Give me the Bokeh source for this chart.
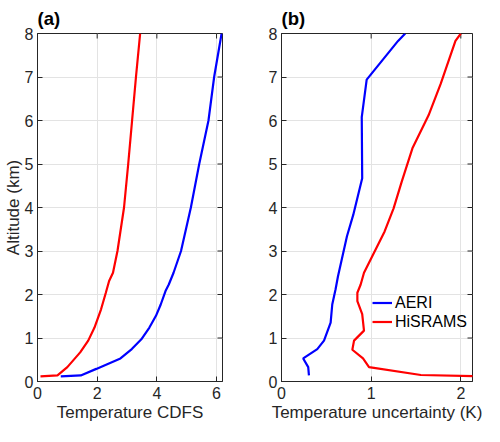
import math
from bokeh.plotting import figure
from bokeh.models import Range1d, FixedTicker, Legend, LegendItem
from bokeh.layouts import row
from bokeh.embed import file_html
from bokeh.resources import INLINE

# ---------------- data ----------------
# Panel (a): Temperature CDFS vs altitude (km)
cdfs_hisrams = [0.10, 0.67, 1.00, 1.43, 1.70, 1.91, 2.13, 2.29, 2.40, 2.53, 2.68, 2.90, 3.04, 3.17, 3.30, 3.44]
alt_cdfs_hisrams = [0.12, 0.14, 0.33, 0.67, 0.94, 1.24, 1.66, 2.04, 2.31, 2.50, 3.00, 4.00, 5.00, 6.00, 7.00, 8.00]

cdfs_aeri = [0.78, 1.45, 1.97, 2.78, 3.16, 3.48, 3.75, 3.97, 4.13, 4.29, 4.40, 4.56, 4.81, 5.14, 5.42, 5.73, 5.92, 6.17]
alt_cdfs_aeri = [0.12, 0.14, 0.29, 0.53, 0.745, 0.97, 1.24, 1.51, 1.77, 2.08, 2.23, 2.50, 3.00, 4.00, 5.00, 6.00, 7.00, 8.00]

# Panel (b): Temperature uncertainty (K) vs altitude (km)
unc_aeri = [0.306, 0.298, 0.242, 0.399, 0.474, 0.548, 0.566, 0.603, 0.63, 0.68, 0.73, 0.80, 0.90, 0.895, 0.95, 1.30, 1.38]
alt_unc_aeri = [0.14, 0.33, 0.53, 0.745, 0.94, 1.355, 1.77, 2.12, 2.42, 2.88, 3.34, 3.83, 4.67, 6.08, 6.94, 7.83, 8.00]

unc_hisrams = [2.25, 1.554, 0.976, 0.909, 0.79, 0.809, 0.92, 0.90, 0.846, 0.846, 0.883, 0.92, 1.15, 1.25, 1.34, 1.46, 1.64, 1.775, 1.94, 2.00]
alt_unc_hisrams = [0.12, 0.15, 0.33, 0.53, 0.73, 0.94, 1.17, 1.55, 1.85, 2.04, 2.23, 2.50, 3.45, 3.98, 4.59, 5.36, 6.12, 6.84, 7.83, 8.00]

xticks_a = [0, 2, 4, 6]
xticks_b = [0, 1, 2]
yticks = [0, 1, 2, 3, 4, 5, 6, 7, 8]
xmax_a = 6.2
xmax_b = 2.13
ymax = 8

FONT = "Liberation Sans"
TXT = "#262626"
GRID = "#e3e3e3"

FRAME_W = 191
FRAME_H = 350
TOP = 31
BOTTOM = 43


def style_axis(ax, ticks, standoff):
    ax.ticker = FixedTicker(ticks=ticks)
    ax.major_tick_in = 5
    ax.major_tick_out = 0
    ax.major_tick_line_color = TXT
    ax.major_tick_line_width = 1
    ax.minor_tick_line_color = None
    ax.axis_line_color = TXT
    ax.axis_line_width = 1
    ax.major_label_text_font = FONT
    ax.major_label_text_color = TXT
    ax.major_label_text_font_size = "16px"
    ax.major_label_standoff = standoff
    ax.axis_label_text_font = FONT
    ax.axis_label_text_color = TXT
    ax.axis_label_text_font_style = "normal"
    ax.axis_label_text_font_size = "17px"


def make_panel(title, xmax, xticks, xlabel, ylabel, left, right):
    p = figure(
        width=left + FRAME_W + right, height=TOP + FRAME_H + BOTTOM,
        x_range=Range1d(0, xmax), y_range=Range1d(0, ymax),
        output_backend="svg", toolbar_location=None,
        min_border_left=left, min_border_right=right,
        min_border_top=TOP, min_border_bottom=BOTTOM,
        background_fill_color="white", border_fill_color="white",
    )
    p.outline_line_color = TXT
    p.outline_line_width = 1
    p.title.text = title
    p.title.text_font = FONT
    p.title.text_font_size = "18.5px"
    p.title.text_font_style = "bold"
    p.title.text_color = "black"
    p.title.align = "left"
    p.title.standoff = 10

    style_axis(p.xaxis[0], xticks, 5)
    style_axis(p.yaxis[0], yticks, 4)
    p.xaxis[0].axis_label = xlabel
    p.xaxis[0].axis_label_standoff = 1
    if ylabel:
        p.yaxis[0].axis_label = ylabel
        p.yaxis[0].axis_label_standoff = -1

    p.xgrid.ticker = FixedTicker(ticks=xticks)
    p.ygrid.ticker = FixedTicker(ticks=yticks)
    p.grid.grid_line_color = GRID
    p.grid.grid_line_width = 1

    # inward tick marks on the top and right edges of the box (clipped to the frame)
    p.scatter(x=xticks, y=[ymax] * len(xticks), marker="dash", size=10, angle=math.pi / 2,
              line_color=TXT, line_width=1)
    p.scatter(x=[xmax] * len(yticks), y=yticks, marker="dash", size=10, angle=0,
              line_color=TXT, line_width=1)
    return p


pa = make_panel("(a)", xmax_a, xticks_a, "Temperature CDFS", "Altitude (km)", 31, 27)
pa.line(cdfs_hisrams, alt_cdfs_hisrams, line_color="#ff0000", line_width=2.2)
pa.line(cdfs_aeri, alt_cdfs_aeri, line_color="#0000ff", line_width=2.2)

pb = make_panel("(b)", xmax_b, xticks_b, "Temperature uncertainty (K)", None, 32, 12)
rb = pb.line(unc_aeri, alt_unc_aeri, line_color="#0000ff", line_width=2.2)
rr = pb.line(unc_hisrams, alt_unc_hisrams, line_color="#ff0000", line_width=2.2)

legend = Legend(
    items=[LegendItem(label="AERI", renderers=[rb]), LegendItem(label="HiSRAMS", renderers=[rr])],
    location=(91, 50),
    border_line_color=None, background_fill_alpha=0,
    padding=0, margin=0, spacing=0,
    glyph_width=20, glyph_height=19, label_height=19, label_standoff=3,
    label_text_font=FONT, label_text_font_size="16px", label_text_color="black",
)
pb.add_layout(legend, "center")

layout = row(pa, pb)

with open("out.html", "w") as f:
    f.write(file_html(layout, INLINE))
